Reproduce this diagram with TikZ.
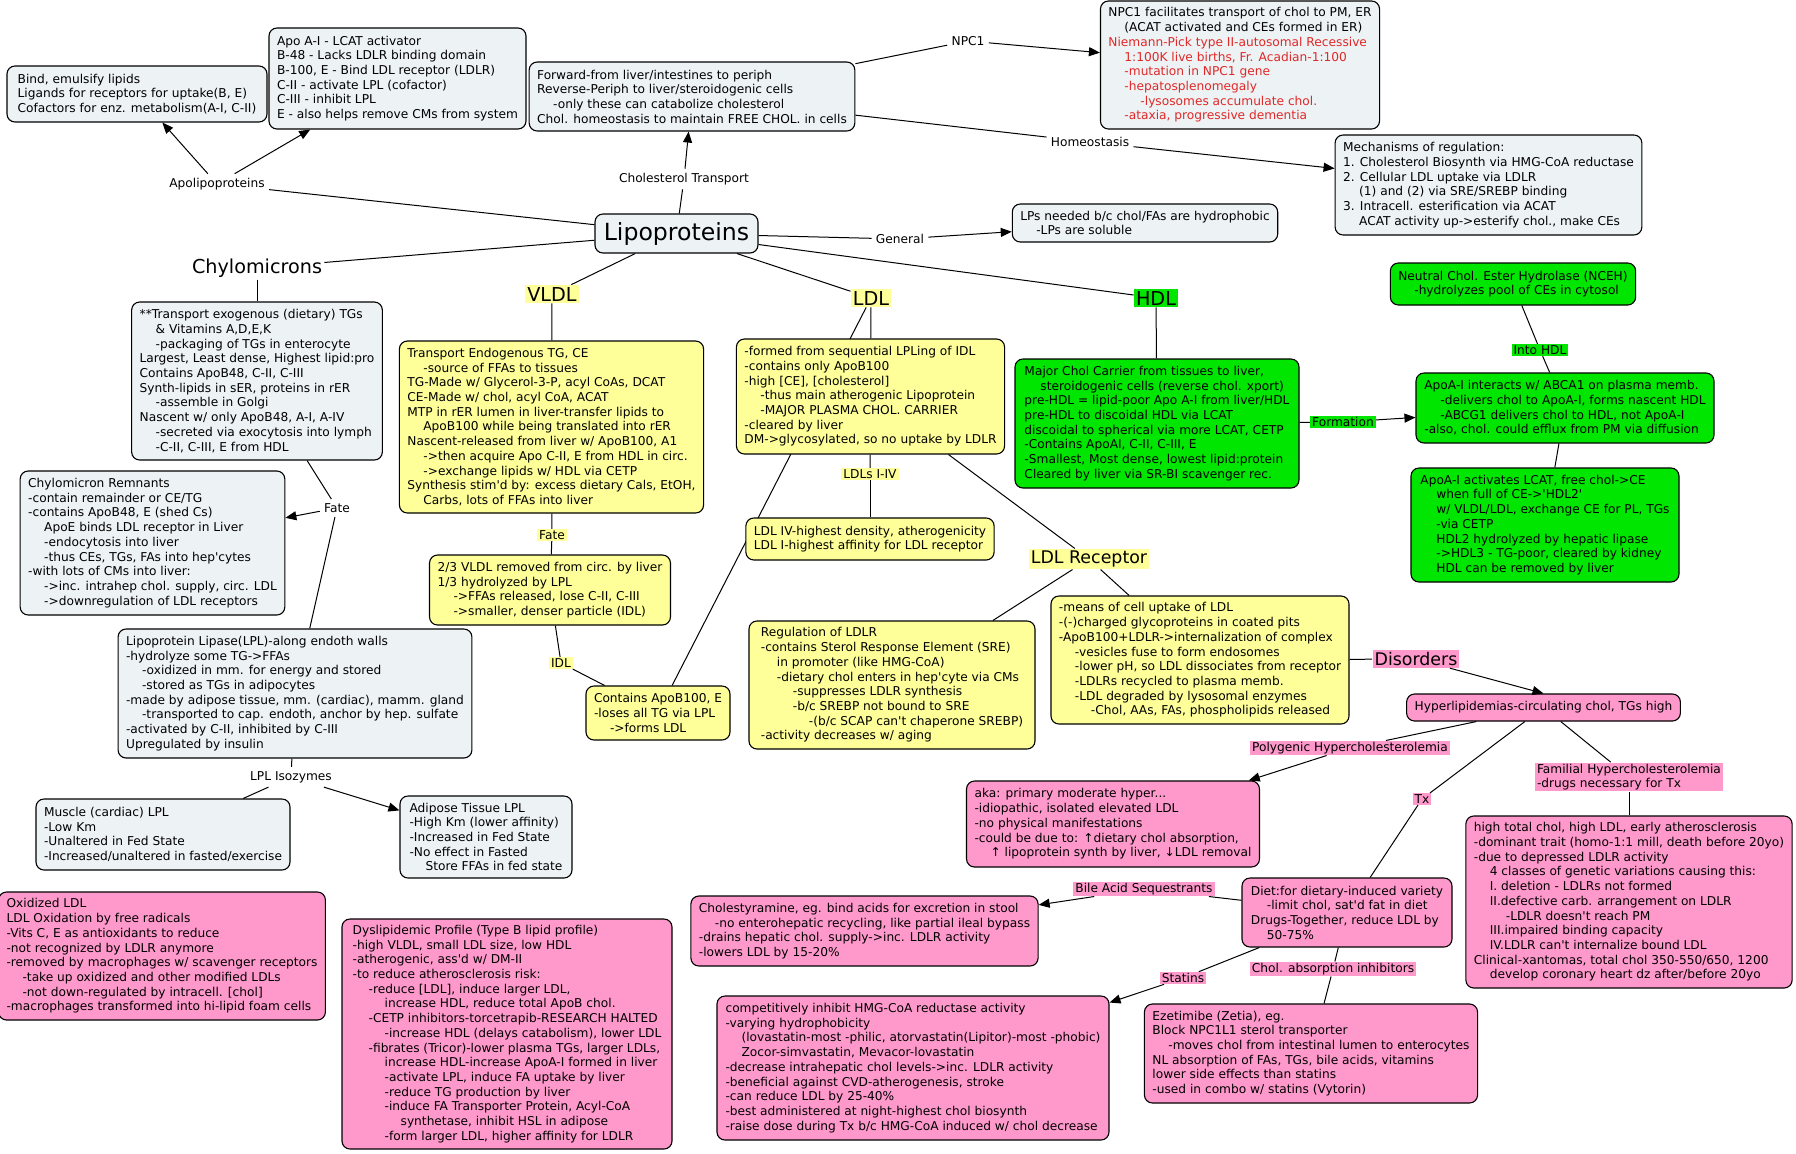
\documentclass[tikz,border=0pt]{standalone}
\usepackage{fontspec}
\newfontfamily\cmapfont{DejaVu Sans}
\usetikzlibrary{arrows.meta, backgrounds}
\definecolor{cgray}{HTML}{EDF2F4}
\definecolor{cyel}{HTML}{FFFF99}
\definecolor{cgrn}{HTML}{00E600}
\definecolor{cpink}{HTML}{FF99CC}
\definecolor{cred}{HTML}{E02828}
\newcommand{\mapfont}{\cmapfont\fontsize{6.1}{7.35}\selectfont}
\newcommand{\indone}{\hspace*{8pt}}
\newcommand{\indtwo}{\hspace*{16pt}}
\newcommand{\indthree}{\hspace*{24pt}}
\tikzset{
  gbox/.style={draw, fill=cgray, rounded corners=4pt, line width=0.55pt,
               align=left, inner xsep=4pt, inner ysep=2pt, font=\mapfont},
  ybox/.style={gbox, fill=cyel},
  grbox/.style={gbox, fill=cgrn},
  pkbox/.style={gbox, fill=cpink},
  lbl/.style={inner sep=2pt, font=\mapfont},
  ylbl/.style={lbl, fill=cyel, inner xsep=1pt, inner ysep=0.6pt},
  glbl/.style={lbl, fill=cgrn, inner xsep=1pt, inner ysep=0.6pt},
  plbl/.style={lbl, fill=cpink, inner xsep=1pt, inner ysep=0.6pt},
  bigc/.style={inner sep=1pt, font=\cmapfont\fontsize{9.6}{11.5}\selectfont},
  midc/.style={inner sep=1pt, font=\cmapfont\fontsize{8.7}{10.5}\selectfont},
  ln/.style={line width=0.5pt},
  arr/.style={ln, -{Triangle[length=5.5pt, width=4.5pt]}},
}

\begin{document}
\begin{tikzpicture}[x=0.5pt, y=-0.5pt]
  \useasboundingbox (0,0) rectangle (1796,1153);

  % Centre
  \node[gbox, align=center, font=\cmapfont\fontsize{11.8}{14}\selectfont,
        minimum width=81.5pt, minimum height=19.5pt] (lipo) at (676.5,233.5) {Lipoproteins};

  % Apolipoproteins
  \node[lbl] (apol) at (217,184) {Apolipoproteins};
  \node[gbox, minimum width=130pt, minimum height=28pt] (bind) at (137,94)
    {Bind, emulsify lipids\\Ligands for receptors for uptake(B, E)\\Cofactors for enz. metabolism(A-I, C-II)};
  \node[gbox, minimum width=128.5pt, minimum height=50.5pt] (apo) at (397.5,78.5)
    {Apo A-I - LCAT activator\\B-48 - Lacks LDLR binding domain\\B-100, E - Bind LDL receptor (LDLR)\\C-II - activate LPL (cofactor)\\C-III - inhibit LPL\\E - also helps remove CMs from system};

  % Transport, homeostasis, general
  \node[lbl] (ctr) at (684,179) {Cholesterol Transport};
  \node[gbox, minimum width=160pt, minimum height=34.5pt] (fwd) at (692,96.5)
    {Forward-from liver/intestines to periph\\Reverse-Periph to liver/steroidogenic cells\\\indone-only these can catabolize cholesterol\\Chol. homeostasis to maintain FREE CHOL. in cells};
  \node[lbl] (npcl) at (968,41) {NPC1};
  \node[gbox, minimum width=138pt, minimum height=64pt] (npc) at (1240,65)
    {NPC1 facilitates transport of chol to PM, ER\\\indone(ACAT activated and CEs formed in ER)\\
     \textcolor{cred}{Niemann-Pick type II-autosomal Recessive}\\
     \textcolor{cred}{\indone1:100K live births, Fr. Acadian-1:100}\\
     \textcolor{cred}{\indone-mutation in NPC1 gene}\\
     \textcolor{cred}{\indone-hepatosplenomegaly}\\
     \textcolor{cred}{\indtwo-lysosomes accumulate chol.}\\
     \textcolor{cred}{\indone-ataxia, progressive dementia}};
  \node[lbl] (homl) at (1090,142) {Homeostasis};
  \node[gbox, minimum width=151.5pt, minimum height=50pt] (mech) at (1488.5,185)
    {Mechanisms of regulation:\\1. Cholesterol Biosynth via HMG-CoA reductase\\2. Cellular LDL uptake via LDLR\\\indone(1) and (2) via SRE/SREBP binding\\3. Intracell. esterification via ACAT\\\indone ACAT activity up->esterify chol., make CEs};
  \node[lbl] (genl) at (900,239) {General};
  \node[gbox, minimum width=132pt, minimum height=19pt] (lps) at (1145,223)
    {LPs needed b/c chol/FAs are hydrophobic\\\indone-LPs are soluble};

  % Chylomicrons
  \node[bigc] (chyl) at (257,268) {Chylomicrons};
  \node[gbox, minimum width=124pt, minimum height=79pt] (chyb) at (257,381)
    {**Transport exogenous (dietary) TGs\\\indone\& Vitamins A,D,E,K\\\indone-packaging of TGs in enterocyte\\Largest, Least dense, Highest lipid:pro\\Contains ApoB48, C-II, C-III\\Synth-lipids in sER, proteins in rER\\\indone-assemble in Golgi\\Nascent w/ only ApoB48, A-I, A-IV\\\indone-secreted via exocytosis into lymph\\\indone-C-II, C-III, E from HDL};
  \node[lbl] (fate1) at (337,508) {Fate};
  \node[gbox, minimum width=130.5pt, minimum height=72pt] (remn) at (152.5,543)
    {Chylomicron Remnants\\-contain remainder or CE/TG\\-contains ApoB48, E (shed Cs)\\\indone ApoE binds LDL receptor in Liver\\\indone-endocytosis into liver\\\indone-thus CEs, TGs, FAs into hep'cytes\\-with lots of CMs into liver:\\\indone->inc. intrahep chol. supply, circ. LDL\\\indone->downregulation of LDL receptors};
  \node[gbox, minimum width=176pt, minimum height=64.5pt] (lplb) at (295,693.5)
    {Lipoprotein Lipase(LPL)-along endoth walls\\-hydrolyze some TG->FFAs\\\indone-oxidized in mm. for energy and stored\\\indone-stored as TGs in adipocytes\\-made by adipose tissue, mm. (cardiac), mamm. gland\\\indone-transported to cap. endoth, anchor by hep. sulfate\\-activated by C-II, inhibited by C-III\\Upregulated by insulin};
  \node[lbl] (lplis) at (291,777) {LPL Isozymes};
  \node[gbox, minimum width=127pt, minimum height=35.5pt] (musc) at (163,834.5)
    {Muscle (cardiac) LPL\\-Low Km\\-Unaltered in Fed State\\-Increased/unaltered in fasted/exercise};
  \node[gbox, minimum width=86pt, minimum height=41pt] (adip) at (486,837)
    {Adipose Tissue LPL\\-High Km (lower affinity)\\-Increased in Fed State\\-No effect in Fasted\\\indone Store FFAs in fed state};

  % VLDL
  \node[bigc, fill=cyel] (vldl) at (552,294) {VLDL};
  \node[ybox, minimum width=151.5pt, minimum height=86pt] (vldlb) at (551.5,427)
    {Transport Endogenous TG, CE\\\indone-source of FFAs to tissues\\TG-Made w/ Glycerol-3-P, acyl CoAs, DCAT\\CE-Made w/ chol, acyl CoA, ACAT\\MTP in rER lumen in liver-transfer lipids to\\\indone ApoB100 while being translated into rER\\Nascent-released from liver w/ ApoB100, A1\\\indone->then acquire Apo C-II, E from HDL in circ.\\\indone->exchange lipids w/ HDL via CETP\\Synthesis stim'd by: excess dietary Cals, EtOH,\\\indone Carbs, lots of FFAs into liver};
  \node[ylbl] (fate2) at (552,535) {Fate};
  \node[ybox, minimum width=119pt, minimum height=35pt] (frac) at (550,590)
    {2/3 VLDL removed from circ. by liver\\1/3 hydrolyzed by LPL\\\indone->FFAs released, lose C-II, C-III\\\indone->smaller, denser particle (IDL)};
  \node[ylbl] (idll) at (561,663) {IDL};
  \node[ybox, minimum width=71pt, minimum height=27pt] (idlb) at (658,713)
    {Contains ApoB100, E\\-loses all TG via LPL\\\indone->forms LDL};

  % LDL
  \node[bigc, fill=cyel] (ldl) at (871,298) {LDL};
  \node[ybox, minimum width=132.5pt, minimum height=57.5pt] (ldlb) at (870.5,396.5)
    {-formed from sequential LPLing of IDL\\-contains only ApoB100\\-high [CE], [cholesterol]\\\indone-thus main atherogenic Lipoprotein\\\indone-MAJOR PLASMA CHOL. CARRIER\\-cleared by liver\\DM->glycosylated, so no uptake by LDLR};
  \node[ylbl] (ldlsl) at (870,474) {LDLs I-IV};
  \node[ybox, minimum width=123pt, minimum height=21pt] (subf) at (870,539)
    {LDL IV-highest density, atherogenicity\\LDL I-highest affinity for LDL receptor};
  \node[midc, fill=cyel] (ldlr) at (1089,559) {LDL Receptor};
  \node[ybox, minimum width=143pt, minimum height=64pt] (regb) at (892,685)
    {Regulation of LDLR\\-contains Sterol Response Element (SRE)\\\indone in promoter (like HMG-CoA)\\\indone-dietary chol enters in hep'cyte via CMs\\\indtwo-suppresses LDLR synthesis\\\indtwo-b/c SREBP not bound to SRE\\\indthree-(b/c SCAP can't chaperone SREBP)\\-activity decreases w/ aging};
  \node[ybox, minimum width=148pt, minimum height=64pt] (uptb) at (1200,660)
    {-means of cell uptake of LDL\\-(-)charged glycoproteins in coated pits\\-ApoB100+LDLR->internalization of complex\\\indone-vesicles fuse to form endosomes\\\indone-lower pH, so LDL dissociates from receptor\\\indone-LDLRs recycled to plasma memb.\\\indone-LDL degraded by lysosomal enzymes\\\indtwo-Chol, AAs, FAs, phospholipids released};

  % HDL
  \node[bigc, fill=cgrn] (hdl) at (1156,298) {HDL};
  \node[grbox, minimum width=142pt, minimum height=64.5pt] (hdlb) at (1157,423.5)
    {Major Chol Carrier from tissues to liver,\\\indone steroidogenic cells (reverse chol. xport)\\pre-HDL = lipid-poor Apo A-I from liver/HDL\\pre-HDL to discoidal HDL via LCAT\\discoidal to spherical via more LCAT, CETP\\-Contains ApoAI, C-II, C-III, E\\-Smallest, Most dense, lowest lipid:protein\\Cleared by liver via SR-BI scavenger rec.};
  \node[grbox, minimum width=121pt, minimum height=21pt] (nceh) at (1513,284)
    {Neutral Chol. Ester Hydrolase (NCEH)\\\indone-hydrolyzes pool of CEs in cytosol};
  \node[glbl] (intol) at (1540,350) {Into HDL};
  \node[glbl] (forml) at (1343,422) {Formation};
  \node[grbox, minimum width=149pt, minimum height=35pt] (apoint) at (1565,408)
    {ApoA-I interacts w/ ABCA1 on plasma memb.\\\indone-delivers chol to ApoA-I, forms nascent HDL\\\indone-ABCG1 delivers chol to HDL, not ApoA-I\\-also, chol. could efflux from PM via diffusion};
  \node[grbox, minimum width=134pt, minimum height=57pt] (apoact) at (1545,525)
    {ApoA-I activates LCAT, free chol->CE\\\indone when full of CE->'HDL2'\\\indone w/ VLDL/LDL, exchange CE for PL, TGs\\\indone-via CETP\\\indone HDL2 hydrolyzed by hepatic lipase\\\indone->HDL3 - TG-poor, cleared by kidney\\\indone HDL can be removed by liver};

  % Disorders
  \node[midc, fill=cpink] (dis) at (1416,659) {Disorders};
  \node[pkbox, minimum width=135.5pt, minimum height=13.5pt] (hyper) at (1543.5,707.5)
    {Hyperlipidemias-circulating chol, TGs high};
  \node[plbl] (polyl) at (1350,748) {Polygenic Hypercholesterolemia};
  \node[pkbox, minimum width=142pt, minimum height=43pt] (polyb) at (1113,824)
    {aka: primary moderate hyper...\\-idiopathic, isolated elevated LDL\\-no physical manifestations\\-could be due to: ↑dietary chol absorption,\\\indone↑ lipoprotein synth by liver, ↓LDL removal};
  \node[plbl] (txl) at (1422,799) {Tx};
  \node[plbl, align=left] (faml) at (1629,777) {Familial Hypercholesterolemia\\-drugs necessary for Tx};
  \node[pkbox, minimum width=163pt, minimum height=86pt] (famb) at (1629,902)
    {high total chol, high LDL, early atherosclerosis\\-dominant trait (homo-1:1 mill, death before 20yo)\\-due to depressed LDLR activity\\\indone 4 classes of genetic variations causing this:\\\indone I. deletion - LDLRs not formed\\\indone II.defective carb. arrangement on LDLR\\\indtwo-LDLR doesn't reach PM\\\indone III.impaired binding capacity\\\indone IV.LDLR can't internalize bound LDL\\Clinical-xantomas, total chol 350-550/650, 1200\\\indone develop coronary heart dz after/before 20yo};
  \node[pkbox, minimum width=105pt, minimum height=34.5pt] (diet) at (1347,912.5)
    {Diet:for dietary-induced variety\\\indone-limit chol, sat'd fat in diet\\Drugs-Together, reduce LDL by\\\indone 50-75\%};
  \node[plbl] (bilel) at (1144,889) {Bile Acid Sequestrants};
  \node[pkbox, minimum width=172.5pt, minimum height=35pt] (bileb) at (864.5,931)
    {Cholestyramine, eg. bind acids for excretion in stool\\\indone-no enterohepatic recycling, like partial ileal bypass\\-drains hepatic chol. supply->inc. LDLR activity\\-lowers LDL by 15-20\%};
  \node[plbl] (statl) at (1183,978) {Statins};
  \node[pkbox, minimum width=196pt, minimum height=72pt] (statb) at (913,1068)
    {competitively inhibit HMG-CoA reductase activity\\-varying hydrophobicity\\\indone(lovastatin-most -philic, atorvastatin(Lipitor)-most -phobic)\\\indone Zocor-simvastatin, Mevacor-lovastatin\\-decrease intrahepatic chol levels->inc. LDLR activity\\-beneficial against CVD-atherogenesis, stroke\\-can reduce LDL by 25-40\%\\-best administered at night-highest chol biosynth\\-raise dose during Tx b/c HMG-CoA induced w/ chol decrease};
  \node[plbl] (absl) at (1333,969) {Chol. absorption inhibitors};
  \node[pkbox, minimum width=165pt, minimum height=49.5pt] (ezeb) at (1311,1053.5)
    {Ezetimibe (Zetia), eg.\\Block NPC1L1 sterol transporter\\\indone-moves chol from intestinal lumen to enterocytes\\NL absorption of FAs, TGs, bile acids, vitamins\\lower side effects than statins\\-used in combo w/ statins (Vytorin)};

  % Free boxes
  \node[pkbox, minimum width=161pt, minimum height=64pt] (oxld) at (162,956)
    {Oxidized LDL\\LDL Oxidation by free radicals\\-Vits C, E as antioxidants to reduce\\-not recognized by LDLR anymore\\-removed by macrophages w/ scavenger receptors\\\indone-take up oxidized and other modified LDLs\\\indone-not down-regulated by intracell. [chol]\\-macrophages transformed into hi-lipid foam cells};
  \node[pkbox, minimum width=165pt, minimum height=115pt] (dysl) at (507,1034)
    {Dyslipidemic Profile (Type B lipid profile)\\-high VLDL, small LDL size, low HDL\\-atherogenic, ass'd w/ DM-II\\-to reduce atherosclerosis risk:\\\indone-reduce [LDL], induce larger LDL,\\\indtwo increase HDL, reduce total ApoB chol.\\\indone-CETP inhibitors-torcetrapib-RESEARCH HALTED\\\indtwo-increase HDL (delays catabolism), lower LDL\\\indone-fibrates (Tricor)-lower plasma TGs, larger LDLs,\\\indtwo increase HDL-increase ApoA-I formed in liver\\\indtwo-activate LPL, induce FA uptake by liver\\\indtwo-reduce TG production by liver\\\indtwo-induce FA Transporter Protein, Acyl-CoA\\\indthree synthetase, inhibit HSL in adipose\\\indtwo-form larger LDL, higher affinity for LDLR};

  % Links
  \draw[arr] (apol) -- (bind);
  \draw[arr] (apol) -- (apo);
  \draw[ln] (apol) -- (lipo);
  \draw[ln] (chyl) -- (lipo);
  \draw[ln] (chyl) -- (chyb);
  \draw[ln] (lipo) -- (ctr);
  \draw[arr] (ctr) -- (fwd);
  \draw[ln] (fwd) -- (npcl);
  \draw[arr] (npcl) -- (npc);
  \draw[ln] (fwd) -- (homl);
  \draw[arr] (homl) -- (mech);
  \draw[ln] (lipo) -- (genl);
  \draw[arr] (genl) -- (lps);
  \draw[ln] (lipo) -- (vldl);
  \draw[ln] (lipo) -- (ldl);
  \draw[ln] (lipo) -- (hdl);

  \draw[ln] (chyb) -- (fate1);
  \draw[arr] (fate1) -- (remn);
  \draw[ln] (fate1) -- (lplb);
  \draw[ln] (lplb) -- (lplis);
  \draw[ln] (lplis) -- (musc);
  \draw[arr] (lplis) -- (adip);

  \draw[ln] (vldl) -- (vldlb);
  \draw[ln] (vldlb) -- (fate2);
  \draw[ln] (fate2) -- (frac);
  \draw[ln] (frac) -- (idll);
  \draw[ln] (idll) -- (idlb);

  \draw[ln] (ldl) -- (ldlb);
  \draw[ln] (ldlb) -- (ldlsl);
  \draw[ln] (ldlsl) -- (subf);
  \draw[ln] (ldlb) -- (ldlr);
  \draw[ln] (ldlr) -- (regb);
  \draw[ln] (ldlr) -- (uptb);

  \draw[ln] (hdl) -- (hdlb);
  \draw[ln] (hdlb) -- (forml);
  \draw[arr] (forml) -- (apoint);
  \draw[ln] (nceh) -- (intol);
  \draw[ln] (intol) -- (apoint);
  \draw[ln] (apoint) -- (apoact);

  \draw[ln] (uptb) -- (dis);
  \draw[arr] (dis) -- (hyper.north);
  \draw[ln] (hyper) -- (polyl);
  \draw[arr] (polyl) -- (polyb);
  \draw[ln] (hyper) -- (txl);
  \draw[ln] (txl) -- (diet);
  \draw[ln] (hyper) -- (faml);
  \draw[ln] (faml) -- (famb);
  \draw[ln] (diet) -- (bilel);
  \draw[arr] (bilel) -- (bileb);
  \draw[ln] (diet) -- (statl);
  \draw[arr] (statl) -- (statb);
  \draw[ln] (diet) -- (absl);
  \draw[ln] (absl) -- (ezeb);

  % behind the LDL box
  \begin{scope}[on background layer]
    \fill[white] (0,0) rectangle (1796,1153);
    \draw[ln] (ldl) -- (idlb);
  \end{scope}
\end{tikzpicture}
\end{document}
